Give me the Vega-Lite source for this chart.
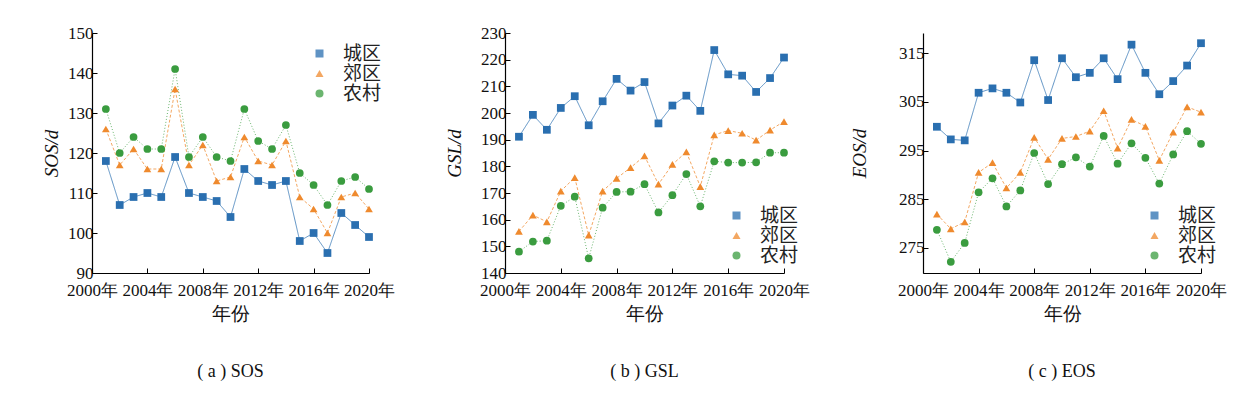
{
"$schema": "https://vega.github.io/schema/vega-lite/v6.json",
"background": "white",
"padding": {"left": 42, "top": 24, "right": 5, "bottom": 5},
"config": {
  "view": {"stroke": null},
  "font": "Liberation Serif",
  "axis": {"grid": false, "domainColor": "#000", "domainWidth": 1.2, "tickColor": "#000", "tickSize": -5, "labelOverlap": false, "labelFlush": false, "labelColor": "#111", "labelFont": "Liberation Serif", "labelFontSize": 17, "labelPadding": 4, "titleFont": "Liberation Serif", "titleFontSize": 19, "titleFontWeight": "normal", "titleColor": "#111"},
  "legend": {"labelFont": "Noto Sans CJK SC", "labelFontSize": 19, "labelColor": "#222", "symbolSize": 64, "labelOffset": 14, "rowPadding": 0, "padding": 0, "title": null, "orient": "none", "symbolStrokeWidth": 0},
  "title": {"font": "Liberation Serif", "fontSize": 18, "fontWeight": "normal", "color": "#111", "orient": "bottom", "offset": 40}
},
"data": {"values": [
{"year":2001,"type":"城区","sos":118,"gsl":191.1,"eos":299.9},
{"year":2002,"type":"城区","sos":107,"gsl":199.3,"eos":297.3},
{"year":2003,"type":"城区","sos":109,"gsl":193.7,"eos":297.1},
{"year":2004,"type":"城区","sos":110,"gsl":201.9,"eos":306.9},
{"year":2005,"type":"城区","sos":109,"gsl":206.3,"eos":307.8},
{"year":2006,"type":"城区","sos":119,"gsl":195.4,"eos":306.9},
{"year":2007,"type":"城区","sos":110,"gsl":204.4,"eos":304.9},
{"year":2008,"type":"城区","sos":109,"gsl":212.8,"eos":313.6},
{"year":2009,"type":"城区","sos":108,"gsl":208.4,"eos":305.4},
{"year":2010,"type":"城区","sos":104,"gsl":211.6,"eos":314.0},
{"year":2011,"type":"城区","sos":116,"gsl":196.1,"eos":310.1},
{"year":2012,"type":"城区","sos":113,"gsl":202.8,"eos":311.0},
{"year":2013,"type":"城区","sos":112,"gsl":206.5,"eos":314.0},
{"year":2014,"type":"城区","sos":113,"gsl":200.8,"eos":309.7},
{"year":2015,"type":"城区","sos":98,"gsl":223.6,"eos":316.8},
{"year":2016,"type":"城区","sos":100,"gsl":214.5,"eos":311.0},
{"year":2017,"type":"城区","sos":95,"gsl":214.0,"eos":306.6},
{"year":2018,"type":"城区","sos":105,"gsl":207.9,"eos":309.3},
{"year":2019,"type":"城区","sos":102,"gsl":213.1,"eos":312.5},
{"year":2020,"type":"城区","sos":99,"gsl":220.8,"eos":317.1},
{"year":2001,"type":"郊区","sos":126,"gsl":155.6,"eos":281.9},
{"year":2002,"type":"郊区","sos":117,"gsl":161.7,"eos":278.9},
{"year":2003,"type":"郊区","sos":121,"gsl":159.2,"eos":280.3},
{"year":2004,"type":"郊区","sos":116,"gsl":170.7,"eos":290.5},
{"year":2005,"type":"郊区","sos":116,"gsl":175.8,"eos":292.5},
{"year":2006,"type":"郊区","sos":136,"gsl":154.2,"eos":287.3},
{"year":2007,"type":"郊区","sos":117,"gsl":170.7,"eos":290.5},
{"year":2008,"type":"郊区","sos":122,"gsl":175.5,"eos":297.7},
{"year":2009,"type":"郊区","sos":113,"gsl":179.5,"eos":293.2},
{"year":2010,"type":"郊区","sos":114,"gsl":183.9,"eos":297.5},
{"year":2011,"type":"郊区","sos":124,"gsl":173.3,"eos":297.9},
{"year":2012,"type":"郊区","sos":118,"gsl":180.7,"eos":299.0},
{"year":2013,"type":"郊区","sos":117,"gsl":185.4,"eos":303.2},
{"year":2014,"type":"郊区","sos":123,"gsl":172.4,"eos":295.5},
{"year":2015,"type":"郊区","sos":109,"gsl":191.8,"eos":301.4},
{"year":2016,"type":"郊区","sos":106,"gsl":193.4,"eos":300.0},
{"year":2017,"type":"郊区","sos":100,"gsl":192.4,"eos":293.0},
{"year":2018,"type":"郊区","sos":109,"gsl":189.8,"eos":298.8},
{"year":2019,"type":"郊区","sos":110,"gsl":193.6,"eos":304.0},
{"year":2020,"type":"郊区","sos":106,"gsl":196.8,"eos":302.9},
{"year":2001,"type":"农村","sos":131,"gsl":148.0,"eos":278.7},
{"year":2002,"type":"农村","sos":120,"gsl":151.8,"eos":272.1},
{"year":2003,"type":"农村","sos":124,"gsl":152.1,"eos":276.0},
{"year":2004,"type":"农村","sos":121,"gsl":165.2,"eos":286.4},
{"year":2005,"type":"农村","sos":121,"gsl":168.6,"eos":289.3},
{"year":2006,"type":"农村","sos":141,"gsl":145.5,"eos":283.5},
{"year":2007,"type":"农村","sos":119,"gsl":164.5,"eos":286.8},
{"year":2008,"type":"农村","sos":124,"gsl":170.4,"eos":294.5},
{"year":2009,"type":"农村","sos":119,"gsl":170.5,"eos":288.1},
{"year":2010,"type":"农村","sos":118,"gsl":173.3,"eos":292.2},
{"year":2011,"type":"农村","sos":131,"gsl":162.7,"eos":293.6},
{"year":2012,"type":"农村","sos":123,"gsl":169.2,"eos":291.7},
{"year":2013,"type":"农村","sos":121,"gsl":177.1,"eos":298.0},
{"year":2014,"type":"农村","sos":127,"gsl":165.0,"eos":292.3},
{"year":2015,"type":"农村","sos":115,"gsl":181.9,"eos":296.5},
{"year":2016,"type":"农村","sos":112,"gsl":181.4,"eos":293.5},
{"year":2017,"type":"农村","sos":107,"gsl":181.4,"eos":288.2},
{"year":2018,"type":"农村","sos":113,"gsl":181.5,"eos":294.2},
{"year":2019,"type":"农村","sos":114,"gsl":185.1,"eos":299.0},
{"year":2020,"type":"农村","sos":111,"gsl":185.1,"eos":296.4}
]},
"spacing": 50,
"resolve": {"scale": {"x": "independent", "y": "independent", "color": "independent", "shape": "independent", "strokeDash": "independent"}, "legend": {"color": "independent", "shape": "independent", "strokeDash": "independent"}},
"hconcat": [
{
  "width": 277, "height": 240,
  "title": {"text": "( a )  SOS"},
  "layer": [
    {"mark": {"type": "line", "strokeWidth": 1, "opacity": 0.75},
     "encoding": {
       "x": {"field": "year", "type": "quantitative", "scale": {"domain": [2000, 2020], "nice": false, "zero": false}, "axis": {"title": "年份", "values": [2000,2004,2008,2012,2016,2020], "labelExpr": "datum.value + '年'", "labelPadding": 14, "labelFlush": false, "labelOverlap": false, "tickCount": 20, "titlePadding": 6}},
       "y": {"field": "sos", "type": "quantitative", "scale": {"domain": [90, 150], "nice": false, "zero": false}, "axis": {"title": "SOS/d", "titleFontStyle": "italic", "values": [90,100,110,120,130,140,150], "tickCount": 20, "labelOverlap": false, "labelFlush": false, "titlePadding": 6}},
       "color": {"field": "type", "type": "nominal", "scale": {"domain": ["城区","郊区","农村"], "range": ["#2a6fb0","#ef8a2e","#3a9c3f"]}},
       "strokeDash": {"field": "type", "type": "nominal", "scale": {"domain": ["城区","郊区","农村"], "range": [[1,0],[3,2],[1,2]]}, "legend": null}
     }},
    {"mark": {"type": "point", "filled": true, "size": 60, "opacity": 1},
     "encoding": {
       "x": {"field": "year", "type": "quantitative"},
       "y": {"field": "sos", "type": "quantitative"},
       "color": {"field": "type", "type": "nominal", "legend": {"orient": "none", "legendX": 218, "legendY": 11, "encode": {"symbols": {"update": {"shape": {"signal": "datum.value === '城区' ? 'M-3.4,-0.13L3.4,-0.13L3.4,0.13L-3.4,0.13ZM-0.95,-0.95L0.95,-0.95L0.95,0.95L-0.95,0.95Z' : datum.value === '郊区' ? 'M-3.4,-0.13L-2.65,-0.13L-2.65,0.13L-3.4,0.13ZM-2.15,-0.13L-1.4,-0.13L-1.4,0.13L-2.15,0.13ZM-0.9,-0.13L-0.15,-0.13L-0.15,0.13L-0.9,0.13ZM0.35,-0.13L1.1,-0.13L1.1,0.13L0.35,0.13ZM1.6,-0.13L2.35,-0.13L2.35,0.13L1.6,0.13ZM2.85,-0.13L3.4,-0.13L3.4,0.13L2.85,0.13ZM0,-1.15L1.1,0.85L-1.1,0.85Z' : 'M-3.4,-0.13L-3.15,-0.13L-3.15,0.13L-3.4,0.13ZM-2.65,-0.13L-2.4,-0.13L-2.4,0.13L-2.65,0.13ZM-1.9,-0.13L-1.65,-0.13L-1.65,0.13L-1.9,0.13ZM-1.15,-0.13L-0.9,-0.13L-0.9,0.13L-1.15,0.13ZM0.9,-0.13L1.15,-0.13L1.15,0.13L0.9,0.13ZM1.65,-0.13L1.9,-0.13L1.9,0.13L1.65,0.13ZM2.4,-0.13L2.65,-0.13L2.65,0.13L2.4,0.13ZM3.15,-0.13L3.4,-0.13L3.4,0.13L3.15,0.13ZM0.95,0L0.82,0.48L0.48,0.82L0,0.95L-0.48,0.82L-0.82,0.48L-0.95,0L-0.82,-0.48L-0.48,-0.82L0,-0.95L0.48,-0.82L0.82,-0.48Z'"}, "opacity": {"value": 1}}}}}},
       "shape": {"field": "type", "type": "nominal", "scale": {"domain": ["城区","郊区","农村"], "range": ["square","triangle-up","circle"]}, "legend": null}
     }}
  ]
},
{
"spacing": 40,
"resolve": {"scale": {"x": "independent", "y": "independent", "color": "independent", "shape": "independent", "strokeDash": "independent"}, "legend": {"color": "independent", "shape": "independent", "strokeDash": "independent"}},
"hconcat": [
{
  "width": 279, "height": 240,
  "title": {"text": "( b )  GSL"},
  "layer": [
    {"mark": {"type": "line", "strokeWidth": 1, "opacity": 0.75},
     "encoding": {
       "x": {"field": "year", "type": "quantitative", "scale": {"domain": [2000, 2020], "nice": false, "zero": false}, "axis": {"title": "年份", "values": [2000,2004,2008,2012,2016,2020], "labelExpr": "datum.value + '年'", "labelPadding": 14, "labelFlush": false, "labelOverlap": false, "tickCount": 20, "titlePadding": 6}},
       "y": {"field": "gsl", "type": "quantitative", "scale": {"domain": [140, 230], "nice": false, "zero": false}, "axis": {"title": "GSL/d", "titleFontStyle": "italic", "values": [140,150,160,170,180,190,200,210,220,230], "tickCount": 20, "labelOverlap": false, "labelFlush": false, "titlePadding": 16}},
       "color": {"field": "type", "type": "nominal", "scale": {"domain": ["城区","郊区","农村"], "range": ["#2a6fb0","#ef8a2e","#3a9c3f"]}},
       "strokeDash": {"field": "type", "type": "nominal", "scale": {"domain": ["城区","郊区","农村"], "range": [[1,0],[3,2],[1,2]]}, "legend": null}
     }},
    {"mark": {"type": "point", "filled": true, "size": 60, "opacity": 1},
     "encoding": {
       "x": {"field": "year", "type": "quantitative"},
       "y": {"field": "gsl", "type": "quantitative"},
       "color": {"field": "type", "type": "nominal", "legend": {"orient": "none", "legendX": 222, "legendY": 173, "encode": {"symbols": {"update": {"shape": {"signal": "datum.value === '城区' ? 'M-3.4,-0.13L3.4,-0.13L3.4,0.13L-3.4,0.13ZM-0.95,-0.95L0.95,-0.95L0.95,0.95L-0.95,0.95Z' : datum.value === '郊区' ? 'M-3.4,-0.13L-2.65,-0.13L-2.65,0.13L-3.4,0.13ZM-2.15,-0.13L-1.4,-0.13L-1.4,0.13L-2.15,0.13ZM-0.9,-0.13L-0.15,-0.13L-0.15,0.13L-0.9,0.13ZM0.35,-0.13L1.1,-0.13L1.1,0.13L0.35,0.13ZM1.6,-0.13L2.35,-0.13L2.35,0.13L1.6,0.13ZM2.85,-0.13L3.4,-0.13L3.4,0.13L2.85,0.13ZM0,-1.15L1.1,0.85L-1.1,0.85Z' : 'M-3.4,-0.13L-3.15,-0.13L-3.15,0.13L-3.4,0.13ZM-2.65,-0.13L-2.4,-0.13L-2.4,0.13L-2.65,0.13ZM-1.9,-0.13L-1.65,-0.13L-1.65,0.13L-1.9,0.13ZM-1.15,-0.13L-0.9,-0.13L-0.9,0.13L-1.15,0.13ZM0.9,-0.13L1.15,-0.13L1.15,0.13L0.9,0.13ZM1.65,-0.13L1.9,-0.13L1.9,0.13L1.65,0.13ZM2.4,-0.13L2.65,-0.13L2.65,0.13L2.4,0.13ZM3.15,-0.13L3.4,-0.13L3.4,0.13L3.15,0.13ZM0.95,0L0.82,0.48L0.48,0.82L0,0.95L-0.48,0.82L-0.82,0.48L-0.95,0L-0.82,-0.48L-0.48,-0.82L0,-0.95L0.48,-0.82L0.82,-0.48Z'"}, "opacity": {"value": 1}}}}}},
       "shape": {"field": "type", "type": "nominal", "scale": {"domain": ["城区","郊区","农村"], "range": ["square","triangle-up","circle"]}, "legend": null}
     }}
  ]
},
{
  "width": 278, "height": 240,
  "title": {"text": "( c )  EOS"},
  "layer": [
    {"mark": {"type": "line", "strokeWidth": 1, "opacity": 0.75},
     "encoding": {
       "x": {"field": "year", "type": "quantitative", "scale": {"domain": [2000, 2020], "nice": false, "zero": false}, "axis": {"title": "年份", "values": [2000,2004,2008,2012,2016,2020], "labelExpr": "datum.value + '年'", "labelPadding": 14, "labelFlush": false, "labelOverlap": false, "tickCount": 20, "titlePadding": 6}},
       "y": {"field": "eos", "type": "quantitative", "scale": {"domain": [269.8, 319.2], "nice": false, "zero": false}, "axis": {"title": "EOS/d", "titleFontStyle": "italic", "values": [275,285,295,305,315], "tickCount": 20, "labelOverlap": false, "labelFlush": false, "titlePadding": 29}},
       "color": {"field": "type", "type": "nominal", "scale": {"domain": ["城区","郊区","农村"], "range": ["#2a6fb0","#ef8a2e","#3a9c3f"]}},
       "strokeDash": {"field": "type", "type": "nominal", "scale": {"domain": ["城区","郊区","农村"], "range": [[1,0],[3,2],[1,2]]}, "legend": null}
     }},
    {"mark": {"type": "point", "filled": true, "size": 60, "opacity": 1},
     "encoding": {
       "x": {"field": "year", "type": "quantitative"},
       "y": {"field": "eos", "type": "quantitative"},
       "color": {"field": "type", "type": "nominal", "legend": {"orient": "none", "legendX": 222, "legendY": 173, "encode": {"symbols": {"update": {"shape": {"signal": "datum.value === '城区' ? 'M-3.4,-0.13L3.4,-0.13L3.4,0.13L-3.4,0.13ZM-0.95,-0.95L0.95,-0.95L0.95,0.95L-0.95,0.95Z' : datum.value === '郊区' ? 'M-3.4,-0.13L-2.65,-0.13L-2.65,0.13L-3.4,0.13ZM-2.15,-0.13L-1.4,-0.13L-1.4,0.13L-2.15,0.13ZM-0.9,-0.13L-0.15,-0.13L-0.15,0.13L-0.9,0.13ZM0.35,-0.13L1.1,-0.13L1.1,0.13L0.35,0.13ZM1.6,-0.13L2.35,-0.13L2.35,0.13L1.6,0.13ZM2.85,-0.13L3.4,-0.13L3.4,0.13L2.85,0.13ZM0,-1.15L1.1,0.85L-1.1,0.85Z' : 'M-3.4,-0.13L-3.15,-0.13L-3.15,0.13L-3.4,0.13ZM-2.65,-0.13L-2.4,-0.13L-2.4,0.13L-2.65,0.13ZM-1.9,-0.13L-1.65,-0.13L-1.65,0.13L-1.9,0.13ZM-1.15,-0.13L-0.9,-0.13L-0.9,0.13L-1.15,0.13ZM0.9,-0.13L1.15,-0.13L1.15,0.13L0.9,0.13ZM1.65,-0.13L1.9,-0.13L1.9,0.13L1.65,0.13ZM2.4,-0.13L2.65,-0.13L2.65,0.13L2.4,0.13ZM3.15,-0.13L3.4,-0.13L3.4,0.13L3.15,0.13ZM0.95,0L0.82,0.48L0.48,0.82L0,0.95L-0.48,0.82L-0.82,0.48L-0.95,0L-0.82,-0.48L-0.48,-0.82L0,-0.95L0.48,-0.82L0.82,-0.48Z'"}, "opacity": {"value": 1}}}}}},
       "shape": {"field": "type", "type": "nominal", "scale": {"domain": ["城区","郊区","农村"], "range": ["square","triangle-up","circle"]}, "legend": null}
     }}
  ]
}
]
}
]
}
